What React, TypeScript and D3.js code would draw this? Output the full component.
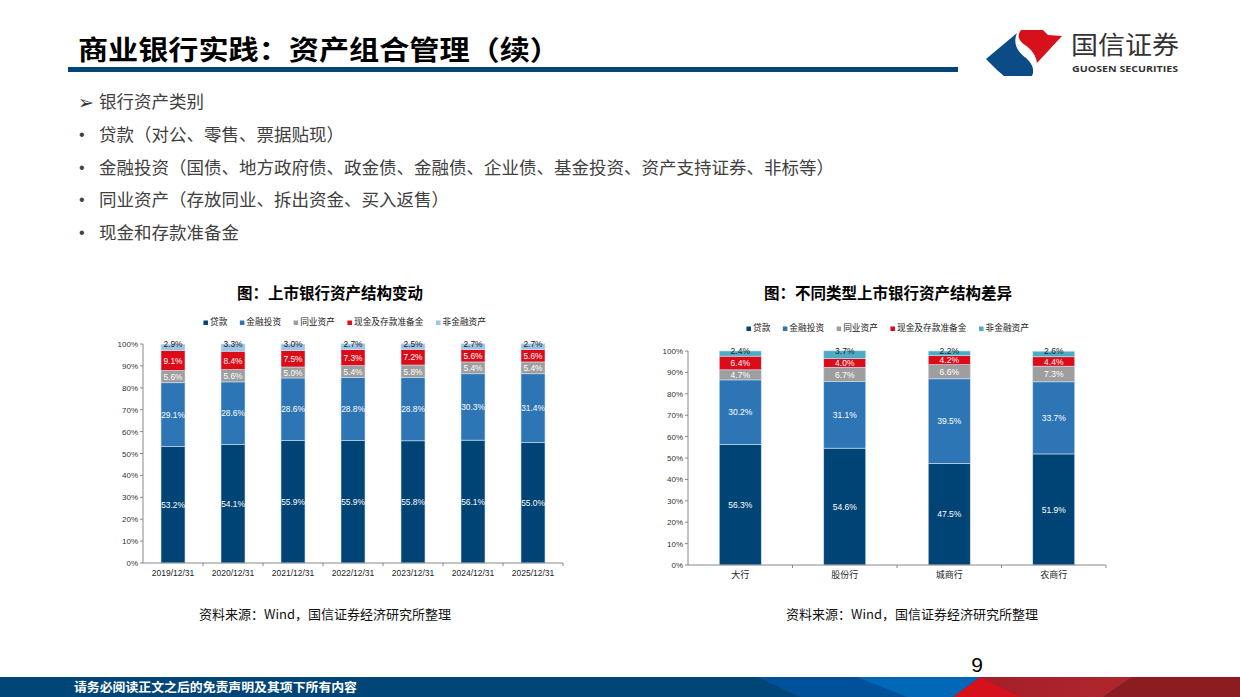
import * as d3 from "d3";

// ---- data ----
const seriesNames = ["贷款", "金融投资", "同业资产", "现金及存款准备金", "非金融资产"];

const yearCats = ["2019/12/31", "2020/12/31", "2021/12/31", "2022/12/31", "2023/12/31", "2024/12/31", "2025/12/31"];
const yearLoans = [53.2, 54.1, 55.9, 55.9, 55.8, 56.1, 55.0];
const yearInvest = [29.1, 28.6, 28.6, 28.8, 28.8, 30.3, 31.4];
const yearInterbank = [5.6, 5.6, 5.0, 5.4, 5.8, 5.4, 5.4];
const yearCash = [9.1, 8.4, 7.5, 7.3, 7.2, 5.6, 5.6];
const yearOther = [2.9, 3.3, 3.0, 2.7, 2.5, 2.7, 2.7];

const bankCats = ["大行", "股份行", "城商行", "农商行"];
const bankLoans = [56.3, 54.6, 47.5, 51.9];
const bankInvest = [30.2, 31.1, 39.5, 33.7];
const bankInterbank = [4.7, 6.7, 6.6, 7.3];
const bankCash = [6.4, 4.0, 4.2, 4.4];
const bankOther = [2.4, 3.7, 2.2, 2.6];

const yTicks = [0, 10, 20, 30, 40, 50, 60, 70, 80, 90, 100];

const bullets = [
  "贷款（对公、零售、票据贴现）",
  "金融投资（国债、地方政府债、政金债、金融债、企业债、基金投资、资产支持证券、非标等）",
  "同业资产（存放同业、拆出资金、买入返售）",
  "现金和存款准备金",
];

const cjk = "'Noto Sans CJK SC', 'Noto Sans', sans-serif";
const latin = "'Liberation Sans', Arial, sans-serif";

type ChartProps = {
  cats: string[];
  values: number[][];
  colors: string[];
  x0: number;
  x1: number;
  yTop: number;
  yBottom: number;
  barWidth: number;
  title: string;
  titleX: number;
  legendX: number;
  legendY: number;
  catFont: string;
  catSize: number;
  labelSize: number;
};

function StackedChart(p: ChartProps) {
  const rows = p.cats.map((c, i) => {
    const r: any = { cat: c };
    seriesNames.forEach((s, k) => (r[s] = p.values[k][i]));
    return r;
  });
  const stacked = d3.stack<any>().keys(seriesNames)(rows);
  const x = d3.scaleBand().domain(p.cats).range([p.x0, p.x1]);
  const y = d3.scaleLinear().domain([0, 100]).range([p.yBottom, p.yTop]);

  // legend layout
  const charW = 8.7;
  let acc = 0;
  const legendItems = seriesNames.map((s) => {
    const item = { s, off: acc };
    acc += 7 + s.length * charW + 12;
    return item;
  });
  const legendStart = p.legendX - (acc - 12) / 2;

  return (
    <g>
      <text x={p.titleX} y={299} textAnchor="middle" fontFamily={cjk} fontWeight="bold" fontSize={15.5} fill="#000">
        {p.title}
      </text>
      {legendItems.map((it, k) => (
        <g key={it.s} transform={`translate(${legendStart + it.off},${p.legendY})`}>
          <rect x={0} y={-4.5} width={4.5} height={4.5} fill={p.colors[k]} />
          <text x={6.5} y={0} fontFamily={cjk} fontSize={8.7} fill="#222">
            {it.s}
          </text>
        </g>
      ))}
      {stacked.map((layer, k) => (
        <g key={layer.key}>
          {layer.map((d, i) => {
            const cx = (x(p.cats[i]) as number) + x.bandwidth() / 2;
            const top = y(d[1]);
            const bot = y(d[0]);
            // the thin top segment label sits slightly above its centre, as in the source
            const ly = k === 4 ? top + 3 : (top + bot) / 2 + 3.2;
            return (
              <g key={i}>
                <rect
                  x={cx - p.barWidth / 2}
                  y={top}
                  width={p.barWidth}
                  height={bot - top}
                  fill={p.colors[k]}
                  stroke="#cfe0f2"
                  strokeWidth={0.6}
                />
                <text
                  x={cx}
                  y={ly}
                  textAnchor="middle"
                  fontFamily={latin}
                  fontSize={p.labelSize}
                  fill={k === 4 ? "#1a1a1a" : "#fff"}
                >
                  {p.values[k][i].toFixed(1) + "%"}
                </text>
              </g>
            );
          })}
        </g>
      ))}
      {/* y axis */}
      <line x1={p.x0} x2={p.x0} y1={p.yTop} y2={p.yBottom} stroke="#888" strokeWidth={1} />
      {yTicks.map((t) => (
        <g key={t}>
          <line x1={p.x0 - 3} x2={p.x0} y1={y(t)} y2={y(t)} stroke="#888" />
          <text x={p.x0 - 5} y={y(t) + 3} textAnchor="end" fontFamily={latin} fontSize={8} fill="#333">
            {t + "%"}
          </text>
        </g>
      ))}
      {/* x axis */}
      <line x1={p.x0} x2={p.x1} y1={p.yBottom} y2={p.yBottom} stroke="#888" strokeWidth={1} />
      {p.cats.map((c) => (
        <g key={c}>
          <line
            x1={(x(c) as number) + x.bandwidth()}
            x2={(x(c) as number) + x.bandwidth()}
            y1={p.yBottom}
            y2={p.yBottom + 3}
            stroke="#888"
          />
          <text
            x={(x(c) as number) + x.bandwidth() / 2}
            y={p.yBottom + 13}
            textAnchor="middle"
            fontFamily={p.catFont}
            fontSize={p.catSize}
            fill="#222"
          >
            {c}
          </text>
        </g>
      ))}
    </g>
  );
}

export default function App() {
  const leftColors = ["#004375", "#2e75b6", "#9e9e9e", "#dd0a18", "#9dc3e6"];
  const rightColors = ["#004375", "#2e75b6", "#9e9e9e", "#dd0a18", "#4bacc6"];
  return (
    <svg width={1240} height={697} style={{ position: "absolute", left: 0, top: 0, background: "#fff" }}>
      <rect x={0} y={0} width={1240} height={697} fill="#fff" />
      {/* header */}
      <text x={78} y={60} fontFamily={cjk} fontWeight="bold" fontSize={27} fill="#000" textLength={482} lengthAdjust="spacingAndGlyphs">
        商业银行实践：资产组合管理（续）
      </text>
      <rect x={68} y={67} width={890} height={5} fill="#004578" />
      {/* logo */}
      <path d="M986,59 L1017,33 C1012,45 1019,53 1026,58 C1032,63 1035,70 1032,76 L1004,76 L997,70 Z" fill="#0b4b86" />
      <path d="M1021,30 L1043,30 L1048,35 L1062,36 L1037,63 C1036,55 1031,49 1025,45 C1018,40 1017,35 1021,30 Z" fill="#d7111b" />
      <text x={1071} y={54} fontFamily={cjk} fontSize={25} fill="#333" textLength={108} lengthAdjust="spacingAndGlyphs">
        国信证券
      </text>
      <text x={1072} y={72} fontFamily={"'Open Sans', sans-serif"} fontWeight="bold" fontSize={9.5} fill="#333" textLength={106} lengthAdjust="spacingAndGlyphs">
        GUOSEN SECURITIES
      </text>
      {/* bullets */}
      <text x={78} y={109} fontFamily={"'DejaVu Sans', sans-serif"} fontSize={19} fill="#333">➢</text>
      <text x={99} y={108} fontFamily={cjk} fontSize={17.5} fill="#404040">银行资产类别</text>
      {bullets.map((b, i) => (
        <g key={b}>
          <text x={79} y={140 + i * 32.6} fontFamily={latin} fontSize={16} fill="#404040">•</text>
          <text x={99} y={141 + i * 32.6} fontFamily={cjk} fontSize={17.5} fill="#404040">
            {b}
          </text>
        </g>
      ))}
      {/* charts */}
      <StackedChart
        cats={yearCats}
        values={[yearLoans, yearInvest, yearInterbank, yearCash, yearOther]}
        colors={leftColors}
        x0={143}
        x1={563}
        yTop={344}
        yBottom={563}
        barWidth={24}
        title="图：上市银行资产结构变动"
        titleX={330}
        legendX={345}
        legendY={325}
        catFont={latin}
        catSize={8.5}
        labelSize={8.4}
      />
      <StackedChart
        cats={bankCats}
        values={[bankLoans, bankInvest, bankInterbank, bankCash, bankOther]}
        colors={rightColors}
        x0={688}
        x1={1106}
        yTop={351}
        yBottom={565}
        barWidth={42}
        title="图：不同类型上市银行资产结构差异"
        titleX={888}
        legendX={888}
        legendY={331}
        catFont={cjk}
        catSize={9}
        labelSize={8.5}
      />
      <text x={199} y={619} fontFamily={cjk} fontSize={13} fill="#111">资料来源：Wind，国信证券经济研究所整理</text>
      <text x={786} y={619} fontFamily={cjk} fontSize={13} fill="#111">资料来源：Wind，国信证券经济研究所整理</text>
      {/* footer */}
      <text x={977} y={672} textAnchor="middle" fontFamily={latin} fontSize={21} fill="#000">9</text>
      <defs>
        <linearGradient id="redGrad" x1="0" x2="1" y1="0" y2="0">
          <stop offset="0" stopColor="#a41f28" />
          <stop offset="1" stopColor="#b0262f" />
        </linearGradient>
      </defs>
      <rect x={0} y={677} width={1240} height={20} fill="#004578" />
      <polygon points="757,677 980,677 953,697 800,697" fill="#00509a" />
      <polygon points="857,677 980,677 953,697 907,697" fill="#0068b7" />
      <polygon points="980,677 1132,677 1103,697 1023,697" fill="url(#redGrad)" />
      <polygon points="980,677 953,697 1023,697" fill="#d7111b" />
      <polygon points="1132,677 1240,677 1240,697 1103,697" fill="#8b1c22" />
      <text x={74} y={692} fontFamily={cjk} fontWeight="bold" fontSize={12.5} fill="#fff" textLength={283} lengthAdjust="spacingAndGlyphs">
        请务必阅读正文之后的免责声明及其项下所有内容
      </text>
    </svg>
  );
}
